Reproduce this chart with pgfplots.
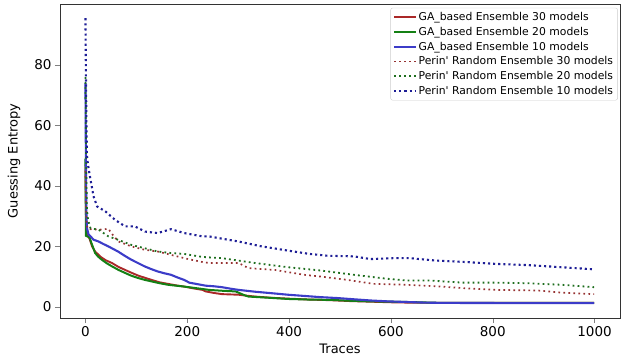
\documentclass[border=0pt]{standalone}
\usepackage{pgfplots}
\pgfplotsset{compat=1.18}
\usepackage{fontspec}
\setmainfont{DejaVu Sans}
\definecolor{cGAa}{RGB}{170,40,40}
\definecolor{cGAb}{RGB}{20,128,20}
\definecolor{cGAc}{RGB}{60,60,200}
\definecolor{cPa}{RGB}{150,50,50}
\definecolor{cPb}{RGB}{30,110,30}
\definecolor{cPc}{RGB}{30,30,150}
\begin{document}
\begin{tikzpicture}
\begin{axis}[
  scale only axis,
  width=560pt, height=314pt,
  xmin=-50, xmax=1050, ymin=-3.7, ymax=100.2,
  xtick={0,200,400,600,800,1000},
  ytick={0,20,40,60,80},
  tick align=outside, tick pos=left,
  major tick length=5pt,
  tick label style={font=\fontsize{13.5}{15}\selectfont},
  /pgf/number format/assume math mode=true,
  /pgf/number format/1000 sep={},
  xlabel={Traces}, ylabel={Guessing Entropy},
  label style={font=\fontsize{13}{15}\selectfont},
  xlabel style={yshift=0pt},
  ylabel style={yshift=7pt},
  axis line style={black!80},
  legend style={at={(rel axis cs:0.996,0.988)}, anchor=north east,
    font=\fontsize{10.8}{12}\selectfont, draw=black!20, rounded corners=2pt,
    row sep=1pt, inner sep=2.5pt},
  legend cell align=left,
  legend image post style={xscale=1.25},
]
\addplot[cGAa, line width=1.9pt] coordinates {
(0,47)(1,30)(3,24)(8,22.5)(13,20)(19,18.3)(30,16.5)(40,15.4)(52,14.5)(65,13.2)(78,12.2)(90,11.3)(104,10.3)(117,9.6)(130,8.9)(146,8.1)(162,7.6)(178,7.1)(194,6.7)(212,6.1)(230,5.6)(236,5.1)(252,4.6)(268,4.2)(285,4.1)(301,4.0)(316,3.7)(333,3.4)(365,3.0)(400,2.7)(440,2.4)(480,2.2)(520,1.9)(560,1.7)(600,1.5)(631,1.4)(700,1.3)(800,1.3)(999,1.3)};
\addlegendentry{GA\_based Ensemble 30 models}
\addplot[cGAb, line width=2pt] coordinates {
(0,49)(1,23.5)(8,23)(12,21)(19,17.8)(25,16.6)(32,15.6)(42,14.4)(52,13.4)(65,12.2)(78,11.2)(90,10.3)(104,9.5)(117,8.9)(130,8.4)(146,7.8)(162,7.3)(178,7.0)(194,6.7)(212,6.3)(230,5.9)(243,5.6)(270,5.3)(295,5.1)(310,4.0)(320,3.4)(360,3.0)(398,2.6)(440,2.4)(482,2.3)(520,2.0)(560,1.8)(600,1.7)(631,1.6)(700,1.3)(800,1.3)(999,1.3)};
\addlegendentry{GA\_based Ensemble 20 models}
\addplot[cGAc, line width=2.1pt] coordinates {
(0,74)(1,45)(2,30)(3,26)(6,24)(10,23.3)(16,22.2)(26,21.6)(35,20.8)(45,20)(55,19.1)(64,18.3)(77,16.9)(90,15.6)(103,14.5)(116,13.4)(129,12.5)(142,11.7)(155,11.1)(168,10.6)(181,9.7)(194,8.9)(204,8.0)(220,7.5)(236,7.0)(252,6.8)(268,6.5)(285,6.0)(301,5.6)(333,5.0)(366,4.5)(398,4.0)(430,3.6)(462,3.2)(495,2.9)(527,2.5)(560,2.1)(595,1.8)(631,1.6)(665,1.4)(700,1.3)(800,1.25)(999,1.2)};
\addlegendentry{GA\_based Ensemble 10 models}
\addplot[cPa, line width=1.7pt, dash pattern=on 1.7pt off 3.3pt] coordinates {
(0,45)(1,35)(2,28)(4,26)(10,25.7)(26,25.5)(45,25.8)(55,23.5)(65,21.6)(90,20)(116,18.9)(142,18.3)(168,17.2)(194,16.1)(230,14.8)(243,14.5)(301,14.5)(320,12.8)(372,12.2)(430,10.6)(463,10.0)(515,8.9)(566,7.6)(631,7.3)(690,6.8)(741,6.2)(806,5.6)(889,5.4)(935,4.7)(999,4.2)};
\addlegendentry{Perin\textquotesingle{} Random Ensemble 30 models}
\addplot[cPb, line width=1.8pt, dash pattern=on 1.8pt off 3.2pt] coordinates {
(0,76)(1,55)(2,40)(3,32)(5,29)(8,27)(10,26)(26,25.5)(45,23.3)(64,22.2)(90,20.5)(116,19.4)(142,18.3)(168,17.8)(194,17.5)(230,16.5)(268,16.1)(333,14.5)(398,13.1)(463,12)(527,10.6)(592,9.3)(631,8.7)(676,8.7)(741,8.0)(806,8.0)(870,7.8)(935,7.3)(999,6.5)};
\addlegendentry{Perin\textquotesingle{} Random Ensemble 20 models}
\addplot[cPc, line width=2.1pt, dash pattern=on 2.1pt off 3pt] coordinates {
(0,95.5)(1,75)(2,60)(3,50)(5,47)(8,44)(10,42)(16,36.5)(23,33.2)(30,32.5)(39,31.6)(58,28.8)(78,26.6)(97,26.6)(117,24.9)(142,24.4)(168,25.7)(194,24.4)(230,23.3)(243,23.3)(270,22.5)(301,21.6)(346,20)(398,18.6)(440,17.5)(476,16.9)(527,16.7)(560,15.8)(605,16.1)(637,16.1)(689,15.3)(750,14.8)(806,14.2)(870,13.8)(935,13.1)(999,12.4)};
\addlegendentry{Perin\textquotesingle{} Random Ensemble 10 models}
\end{axis}
\pgfresetboundingbox
\path[use as bounding box] (-60pt,-42pt) rectangle (563pt,318pt);
\end{tikzpicture}
\end{document}
